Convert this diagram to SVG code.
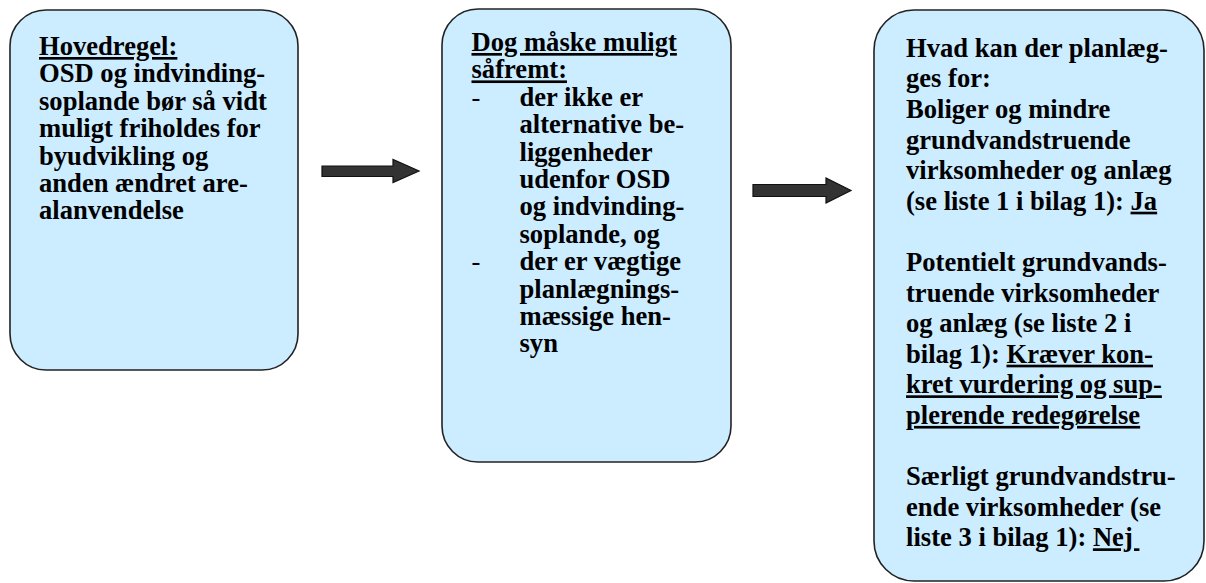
<svg xmlns="http://www.w3.org/2000/svg" width="1206" height="583" viewBox="0 0 1206 583">
<style>
.box{fill:#CCECFF;stroke:#222;stroke-width:1.6}
.t{font-family:"Liberation Serif","Times New Roman",serif;font-weight:bold;font-size:26.6px;fill:#000}
.u{text-decoration:underline}
.dash{font-weight:normal}
.arrow{fill:#333;stroke:#111;stroke-width:1.2}
</style>
<rect width="1206" height="583" fill="#fff"/>
<g id="connectors">
<polygon class="arrow" points="322,166 393,166 393,159.5 419,171 393,182.5 393,176.5 322,176.5"/>
<polygon class="arrow" points="753,184.5 826,184.5 826,178 851,190.5 826,203 826,196.5 753,196.5"/>
</g>
<g id="node1">
<rect class="box" x="10" y="10" width="288" height="360" rx="36" ry="36"/>
<text class="t" x="39" y="55"><tspan class="u">Hovedregel:</tspan></text>
<text class="t" x="39" y="82.4">OSD og indvinding-</text>
<text class="t" x="39" y="109.8">soplande bør så vidt</text>
<text class="t" x="39" y="137.2">muligt friholdes for</text>
<text class="t" x="39" y="164.6">byudvikling og</text>
<text class="t" x="39" y="192">anden ændret are-</text>
<text class="t" x="39" y="219.4">alanvendelse</text>
</g>
<g id="node2">
<rect class="box" x="442" y="9" width="289" height="453" rx="36" ry="36"/>
<text class="t" x="471.5" y="51"><tspan class="u">Dog måske muligt</tspan></text>
<text class="t" x="471.5" y="78.4"><tspan class="u">såfremt:</tspan></text>
<text class="t dash" x="471.5" y="105.8">-</text>
<text class="t" x="519.5" y="105.8">der ikke er</text>
<text class="t" x="519.5" y="133.2">alternative be-</text>
<text class="t" x="519.5" y="160.6">liggenheder</text>
<text class="t" x="519.5" y="188">udenfor OSD</text>
<text class="t" x="519.5" y="215.4">og indvinding-</text>
<text class="t" x="519.5" y="242.8">soplande, og</text>
<text class="t dash" x="471.5" y="270.2">-</text>
<text class="t" x="519.5" y="270.2">der er vægtige</text>
<text class="t" x="519.5" y="297.6">planlægnings-</text>
<text class="t" x="519.5" y="325">mæssige hen-</text>
<text class="t" x="519.5" y="352.4">syn</text>
</g>
<g id="node3">
<rect class="box" x="874" y="10" width="330" height="571" rx="40" ry="40"/>
<text class="t" x="906" y="56.7">Hvad kan der planlæg-</text>
<text class="t" x="906" y="87.3">ges for:</text>
<text class="t" x="906" y="117.9">Boliger og mindre</text>
<text class="t" x="906" y="148.5">grundvandstruende</text>
<text class="t" x="906" y="179.1">virksomheder og anlæg</text>
<text class="t" x="906" y="209.7">(se liste 1 i bilag 1): <tspan class="u">Ja</tspan></text>
<text class="t" x="906" y="270.9">Potentielt grundvands-</text>
<text class="t" x="906" y="301.5">truende virksomheder</text>
<text class="t" x="906" y="332.1">og anlæg (se liste 2 i</text>
<text class="t" x="906" y="362.7">bilag 1): <tspan class="u">Kræver kon-</tspan></text>
<text class="t" x="906" y="393.3"><tspan class="u">kret vurdering og sup-</tspan></text>
<text class="t" x="906" y="423.9"><tspan class="u">plerende redegørelse</tspan></text>
<text class="t" x="906" y="485.1">Særligt grundvandstru-</text>
<text class="t" x="906" y="515.7">ende virksomheder (se</text>
<text class="t" x="906" y="546.3">liste 3 i bilag 1): <tspan class="u">Nej&#160;</tspan></text>
</g>
</svg>
